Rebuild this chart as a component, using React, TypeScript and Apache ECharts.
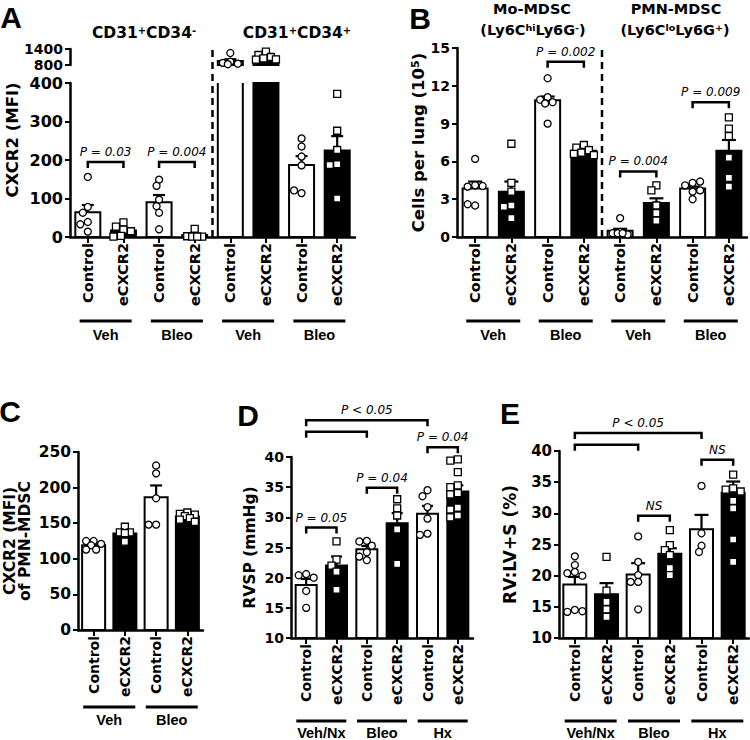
import React, { useEffect, useRef } from "react";
import * as echarts from "echarts";

// ---------------- categories & group labels ----------------
const CATS_A = ["Control", "eCXCR2", "Control", "eCXCR2", "Control", "eCXCR2", "Control", "eCXCR2"];
const GROUPS_A = ["Veh", "Bleo", "Veh", "Bleo"];
const CATS_B = ["Control", "eCXCR2", "Control", "eCXCR2", "Control", "eCXCR2", "Control", "eCXCR2"];
const GROUPS_B = ["Veh", "Bleo", "Veh", "Bleo"];
const CATS_C = ["Control", "eCXCR2", "Control", "eCXCR2"];
const GROUPS_C = ["Veh", "Bleo"];
const CATS_D = ["Control", "eCXCR2", "Control", "eCXCR2", "Control", "eCXCR2"];
const GROUPS_D = ["Veh/Nx", "Bleo", "Hx"];
const CATS_E = ["Control", "eCXCR2", "Control", "eCXCR2", "Control", "eCXCR2"];
const GROUPS_E = ["Veh/Nx", "Bleo", "Hx"];

// ---------------- tick labels ----------------
const TICKS_A_UPPER = [800, 1400];
const TICKS_A_LOWER = [0, 100, 200, 300, 400];
const TICKS_B = [0, 3, 6, 9, 12, 15];
const TICKS_C = [0, 50, 100, 150, 200, 250];
const TICKS_D = [10, 15, 20, 25, 30, 35, 40];
const TICKS_E = [10, 15, 20, 25, 30, 35, 40];

// ---------------- panel A: CXCR2 (MFI) ----------------
const A_MEAN = [64, 17, 90, 5, 946, 1106, 187, 225];
const A_SEM = [19, 6, 19, 3.5, 70, 45, 23, 37];
const A_POINTS = [
  [156, 78, 63, 39, 33, 14],
  [38, 27, 19, 15, 3, 1],
  [149, 133, 97, 80, 63, 20],
  [21, 3, 2, 1, 1, 1],
  [1250, 920, 880, 850, 830],
  [1300, 1175, 1100, 1050, 1012, 1000],
  [256, 235, 209, 186, 114, 121],
  [372, 276, 226, 189, 187, 100],
];
const A_BRACKETS = [[0, 1, 195], [2, 3, 195]];
const A_PVALUES = ["P = 0.03", "P = 0.004"];

// ---------------- panel B: cells per lung ----------------
const B_MEAN = [3.85, 3.6, 10.85, 6.85, 0.5, 2.7, 3.85, 6.85];
const B_SEM = [0.55, 0.8, 0.3, 0.3, 0.15, 0.37, 0.15, 0.85];
const B_POINTS = [
  [6.2, 4.1, 4.0, 4.05, 2.5, 2.6],
  [7.4, 4.3, 3.6, 2.5, 2.4, 1.5],
  [12.6, 11.1, 10.9, 10.7, 10.6, 9.0],
  [7.3, 7.1, 6.9, 6.7, 6.6, 6.5],
  [1.5, 0.4, 0.3, 0.2, 0.3, 0.3],
  [4.1, 3.7, 2.5, 1.9, 1.3],
  [4.3, 4.1, 4.4, 3.6, 3.7, 3.0],
  [9.5, 8.6, 8.0, 6.3, 4.7, 4.0],
];
const B_BRACKETS = [[2, 3, 13.9], [4, 5, 5.2], [6, 7, 10.7]];
const B_PVALUES = ["P = 0.002", "P = 0.004", "P = 0.009"];

// ---------------- panel C: CXCR2 of PMN-MDSC ----------------
const C_MEAN = [119, 135.5, 186.5, 159.5];
const C_SEM = [2.5, 3.5, 16.5, 2.5];
const C_POINTS = [
  [125, 125, 121, 119, 113, 113],
  [145, 137, 137, 136, 124],
  [231, 220, 185, 148, 148],
  [165, 163, 162, 160, 157, 155, 152],
];

// ---------------- panel D: RVSP ----------------
const D_MEAN = [18.8, 22.0, 24.7, 29.0, 30.6, 34.3];
const D_SEM = [1.0, 1.5, 0.55, 1.7, 1.3, 1.0];
const D_POINTS = [
  [20.6, 20.4, 20.0, 17.8, 15.0],
  [26.0, 23.0, 22.0, 21.0, 18.0],
  [26.1, 26.0, 25.3, 24.2, 23.5, 22.9],
  [33.0, 31.5, 30.3, 28.0, 22.3],
  [34.5, 33.5, 31.7, 29.8, 27.3, 27.1],
  [39.6, 39.4, 37.5, 35.3, 35.0, 34.0, 33.8, 31.6, 31.3, 30.3, 30.0],
];
const D_BRACKETS = [[0, 1, 28.3], [2, 3, 34.9], [4, 5, 41.6], [0, 4, 46.1], [0, 2, 44.2]];
const D_PVALUES = ["P = 0.05", "P = 0.04", "P = 0.04", "P < 0.05", ""];

// ---------------- panel E: RV:LV+S ----------------
const E_MEAN = [18.6, 17.0, 20.2, 23.5, 27.45, 33.3];
const E_SEM = [1.2, 1.8, 1.8, 0.9, 2.3, 1.8];
const E_POINTS = [
  [23.1, 21.7, 20.6, 20.4, 20.0, 14.5, 14.2, 14.3],
  [23.0, 17.6, 15.8, 14.6, 13.4],
  [26.3, 22.2, 20.1, 19.0, 19.0, 14.6],
  [27.3, 24.9, 24.1, 23.3, 21.2, 20.1],
  [34.4, 26.8, 24.8, 23.8],
  [36.2, 34.0, 33.8, 33.5, 32.0, 30.8, 25.8, 22.2],
];
const E_BRACKETS = [[2, 3, 29.6], [4, 5, 38.6], [0, 4, 42.9], [0, 2, 41.0]];
const E_PVALUES = ["NS", "NS", "P < 0.05", ""];

// ---------------- styling helpers ----------------
const BLACK = "#000";
const FN = "'DejaVu Sans', sans-serif";
const FA = "'Liberation Sans', Arial, sans-serif";

// horizontal spreading of points that sit at similar heights (kept inside the bar)
function swarm(ys: number[], d: number, maxOff: number): number[] {
  const placed: number[][] = [];
  const cands: number[] = [0];
  for (let s = 1; s * 2.5 <= maxOff; s++) cands.push(-s * 2.5, s * 2.5);
  return ys.map((y) => {
    let best = 0;
    let bestScore = -1;
    for (const dx of cands) {
      let md = Infinity;
      for (const p of placed) md = Math.min(md, Math.hypot(p[0] - dx, p[1] - y));
      if (md >= d * 0.85) { best = dx; break; }
      if (md > bestScore) { bestScore = md; best = dx; }
    }
    placed.push([best, y]);
    return best;
  });
}

function xAxisCfg(gi: number, cats: string[], fontSize: number, show = true) {
  return {
    type: "category", gridIndex: gi, data: cats, show,
    axisLine: { show: true, onZero: false, lineStyle: { color: BLACK, width: 2.5 } },
    axisTick: { show: true, alignWithLabel: true, length: 6, lineStyle: { color: BLACK, width: 2 } },
    axisLabel: { show: true, interval: 0, rotate: 90, margin: 6, color: BLACK, fontFamily: FN, fontWeight: "bold", fontSize },
    splitLine: { show: false },
  };
}

function yAxisCfg(gi: number, ticks: number[], fontSize: number, extra: any = {}) {
  return {
    type: "value", gridIndex: gi,
    min: ticks[0], max: ticks[ticks.length - 1], interval: ticks[1] - ticks[0],
    splitLine: { show: false },
    axisLine: { show: true, onZero: false, lineStyle: { color: BLACK, width: 2.5 } },
    axisTick: { show: true, length: 5, lineStyle: { color: BLACK, width: 2 } },
    axisLabel: {
      color: BLACK, fontFamily: FN, fontWeight: "bold", fontSize, margin: 7,
      formatter: (v: number) => String(v),
    },
    ...extra,
  };
}

function barsSeries(gi: number, cats: string[], means: number[], ticks: number[], barW: number) {
  const lo = ticks[0];
  const hi = ticks[ticks.length - 1];
  return {
    type: "custom", xAxisIndex: gi, yAxisIndex: gi, clip: false, z: 2,
    encode: { x: 0, y: 1 },
    data: means.map((m, i) => [i, m]).filter((d) => d[1] > lo),
    renderItem: (_p: any, api: any) => {
      const i = api.value(0);
      const m = api.value(1);
      const filled = cats[i] === "eCXCR2";
      const base = api.coord([i, lo]);
      const top = api.coord([i, Math.min(m, hi)]);
      const x = base[0] - barW / 2;
      const shape = { x, y: top[1], width: barW, height: base[1] - top[1] };
      if (filled) return { type: "rect", shape, style: { fill: BLACK, stroke: BLACK, lineWidth: 2 } };
      if (m > hi) {
        return {
          type: "group",
          children: [
            { type: "rect", shape, style: { fill: "#fff" } },
            {
              type: "polyline",
              shape: { points: [[x, top[1]], [x, base[1]], [x + barW, base[1]], [x + barW, top[1]]] },
              style: { stroke: BLACK, lineWidth: 2, fill: null },
            },
          ],
        };
      }
      return { type: "rect", shape, style: { fill: "#fff", stroke: BLACK, lineWidth: 2 } };
    },
  };
}

function errorSeries(gi: number, means: number[], sems: number[], ticks: number[], cap: number) {
  const lo = ticks[0];
  const hi = ticks[ticks.length - 1];
  return {
    type: "custom", xAxisIndex: gi, yAxisIndex: gi, clip: false, z: 3,
    encode: { x: 0, y: 1 },
    data: means.map((m, i) => [i, m, sems[i]]).filter((d) => d[1] > lo && d[1] <= hi),
    renderItem: (_p: any, api: any) => {
      const i = api.value(0);
      const m = api.value(1);
      const s = api.value(2);
      const p = api.coord([i, m]);
      const q = api.coord([i, m + s]);
      const st = { stroke: BLACK, lineWidth: 2.2 };
      return {
        type: "group",
        children: [
          { type: "line", shape: { x1: p[0], y1: p[1], x2: q[0], y2: q[1] }, style: st },
          { type: "line", shape: { x1: q[0] - cap, y1: q[1], x2: q[0] + cap, y2: q[1] }, style: st },
        ],
      };
    },
  };
}

function pointsSeries(gi: number, cats: string[], pts: number[][], ticks: number[], size: number, maxOff: number) {
  const lo = ticks[0];
  const hi = ticks[ticks.length - 1];
  const groups = pts.map((g) => g.filter((v) => v >= lo && v <= hi));
  const data: number[][] = [];
  groups.forEach((g, i) => g.forEach((v, k) => data.push([i, v, k])));
  return {
    type: "custom", xAxisIndex: gi, yAxisIndex: gi, clip: false, z: 4,
    encode: { x: 0, y: 1 },
    data,
    renderItem: (_p: any, api: any) => {
      const i = api.value(0);
      const v = api.value(1);
      const k = api.value(2);
      const ys = groups[i].map((val) => api.coord([i, val])[1]);
      const dx = swarm(ys, size + 0.8, maxOff)[k];
      const p = api.coord([i, v]);
      const style = { fill: "#fff", stroke: BLACK, lineWidth: 1.3 };
      if (cats[i] === "eCXCR2") {
        return { type: "rect", shape: { x: p[0] + dx - size / 2, y: p[1] - size / 2, width: size, height: size }, style };
      }
      return { type: "circle", shape: { cx: p[0] + dx, cy: p[1], r: size / 2 }, style };
    },
  };
}

function bracketSeries(gi: number, brackets: number[][], labels: string[], fontSize: number) {
  return {
    type: "custom", xAxisIndex: gi, yAxisIndex: gi, clip: false, z: 5,
    encode: { x: 0, y: 1 },
    data: brackets.map((b, j) => [b[0], b[2], b[1], j]),
    renderItem: (_p: any, api: any) => {
      const y = api.value(1);
      const a = api.coord([api.value(0), y]);
      const b = api.coord([api.value(2), y]);
      const label = labels[api.value(3)];
      const tick = 6;
      const children: any[] = [
        {
          type: "polyline",
          shape: { points: [[a[0], a[1] + tick], [a[0], a[1]], [b[0], b[1]], [b[0], b[1] + tick]] },
          style: { stroke: BLACK, lineWidth: 2.5, fill: null },
        },
      ];
      if (label) {
        children.push({
          type: "text", x: (a[0] + b[0]) / 2, y: a[1] - 4,
          style: { text: label, fill: BLACK, fontFamily: FN, fontStyle: "italic", fontSize, align: "center", verticalAlign: "bottom" },
        });
      }
      return { type: "group", children };
    },
  };
}

function groupSeries(gi: number, groups: string[], ticks: number[], lineOff: number, textOff: number, half: number) {
  const lo = ticks[0];
  return {
    type: "custom", xAxisIndex: gi, yAxisIndex: gi, clip: false, z: 5,
    encode: { x: 0, y: 1 },
    data: groups.map((_g, j) => [2 * j, lo, 2 * j + 1, j]),
    renderItem: (_p: any, api: any) => {
      const a = api.coord([api.value(0), lo]);
      const b = api.coord([api.value(2), lo]);
      const mid = (a[0] + b[0]) / 2;
      return {
        type: "group",
        children: [
          { type: "line", shape: { x1: mid - half, y1: a[1] + lineOff, x2: mid + half, y2: a[1] + lineOff }, style: { stroke: BLACK, lineWidth: 3 } },
          {
            type: "text", x: mid, y: a[1] + textOff,
            style: { text: groups[api.value(3)], fill: BLACK, fontFamily: FA, fontWeight: "bold", fontSize: 14.5, align: "center", verticalAlign: "middle" },
          },
        ],
      };
    },
  };
}

function separatorSeries(gi: number, after: number, ticks: number[], ext: number) {
  const lo = ticks[0];
  const hi = ticks[ticks.length - 1];
  return {
    type: "custom", xAxisIndex: gi, yAxisIndex: gi, clip: false, z: 5,
    encode: { x: 0, y: 1 },
    data: [[after, lo]],
    renderItem: (_p: any, api: any) => {
      const c = api.value(0);
      const a = api.coord([c, lo]);
      const b = api.coord([c + 1, hi]);
      const x = (a[0] + b[0]) / 2;
      return {
        type: "line",
        shape: { x1: x, y1: a[1], x2: x, y2: b[1] - ext },
        style: { stroke: BLACK, lineWidth: 2.5, lineDash: [7, 5] },
      };
    },
  };
}

function txt(x: number, y: number, text: string, fontSize: number, extra: any = {}) {
  return {
    type: "text", x, y,
    style: { text, fill: BLACK, fontFamily: FN, fontWeight: "bold", fontSize, align: "center", verticalAlign: "middle", ...extra },
  };
}

const SUP = (size: number) => ({ s: { fontSize: size, fontWeight: "bold", fontFamily: FN, fill: BLACK, verticalAlign: "top" } });

function buildOption() {
  const nameStyle = (fontSize: number, extra: any = {}) => ({
    fontFamily: FN, fontWeight: "bold", fontSize, color: BLACK, ...extra,
  });
  const upperAxis = yAxisCfg(0, TICKS_A_UPPER, 14);
  upperAxis.axisLabel = { ...upperAxis.axisLabel, lineHeight: 13 } as any;
  return {
    animation: false,
    backgroundColor: "#fff",
    textStyle: { fontFamily: FN },
    grid: [
      { left: 70, top: 49, width: 285, height: 16 },
      { left: 70, top: 83, width: 285, height: 154 },
      { left: 457, top: 48, width: 290, height: 189 },
      { left: 78, top: 452, width: 125, height: 178 },
      { left: 291, top: 457, width: 182, height: 181 },
      { left: 559, top: 451, width: 190, height: 187 },
    ],
    xAxis: [
      xAxisCfg(0, CATS_A, 14.5, false),
      xAxisCfg(1, CATS_A, 14.5),
      xAxisCfg(2, CATS_B, 14.5),
      xAxisCfg(3, CATS_C, 14),
      xAxisCfg(4, CATS_D, 14),
      xAxisCfg(5, CATS_E, 14),
    ],
    yAxis: [
      upperAxis,
      yAxisCfg(1, TICKS_A_LOWER, 16),
      yAxisCfg(2, TICKS_B, 14, {
        name: "Cells per lung (10{s|5})", nameLocation: "middle", nameGap: 25, nameRotate: 90,
        nameTextStyle: nameStyle(16.5, { rich: SUP(11) }),
      }),
      yAxisCfg(3, TICKS_C, 15.5, {
        name: "CXCR2 (MFI)\nof PMN-MDSC", nameLocation: "middle", nameGap: 46, nameRotate: 90,
        nameTextStyle: nameStyle(15.5, { lineHeight: 15 }),
      }),
      yAxisCfg(4, TICKS_D, 14, {
        name: "RVSP (mmHg)", nameLocation: "middle", nameGap: 33, nameRotate: 90,
        nameTextStyle: nameStyle(15.5),
      }),
      yAxisCfg(5, TICKS_E, 15, {
        name: "RV:LV+S (%)", nameLocation: "middle", nameGap: 41, nameRotate: 90,
        nameTextStyle: nameStyle(17),
      }),
    ],
    series: [
      // Panel A
      barsSeries(0, CATS_A, A_MEAN, TICKS_A_UPPER, 25),
      barsSeries(1, CATS_A, A_MEAN, TICKS_A_LOWER, 25),
      errorSeries(0, A_MEAN, A_SEM, TICKS_A_UPPER, 6),
      errorSeries(1, A_MEAN, A_SEM, TICKS_A_LOWER, 6),
      pointsSeries(0, CATS_A, A_POINTS, TICKS_A_UPPER, 7, 10),
      pointsSeries(1, CATS_A, A_POINTS, TICKS_A_LOWER, 7, 10),
      bracketSeries(1, A_BRACKETS, A_PVALUES, 12),
      groupSeries(1, GROUPS_A, TICKS_A_LOWER, 84, 98, 26),
      separatorSeries(1, 3, TICKS_A_LOWER, 38),
      // Panel B
      barsSeries(2, CATS_B, B_MEAN, TICKS_B, 25),
      errorSeries(2, B_MEAN, B_SEM, TICKS_B, 7),
      pointsSeries(2, CATS_B, B_POINTS, TICKS_B, 7, 10),
      bracketSeries(2, B_BRACKETS, B_PVALUES, 12),
      groupSeries(2, GROUPS_B, TICKS_B, 84, 98, 27),
      separatorSeries(2, 3, TICKS_B, 1),
      // Panel C
      barsSeries(3, CATS_C, C_MEAN, TICKS_C, 23),
      errorSeries(3, C_MEAN, C_SEM, TICKS_C, 6),
      pointsSeries(3, CATS_C, C_POINTS, TICKS_C, 7, 9),
      groupSeries(3, GROUPS_C, TICKS_C, 77, 90, 26),
      // Panel D
      barsSeries(4, CATS_D, D_MEAN, TICKS_D, 21),
      errorSeries(4, D_MEAN, D_SEM, TICKS_D, 5.5),
      pointsSeries(4, CATS_D, D_POINTS, TICKS_D, 7, 8),
      bracketSeries(4, D_BRACKETS, D_PVALUES, 12),
      groupSeries(4, GROUPS_D, TICKS_D, 83, 95, 25),
      // Panel E
      barsSeries(5, CATS_E, E_MEAN, TICKS_E, 23),
      errorSeries(5, E_MEAN, E_SEM, TICKS_E, 7),
      pointsSeries(5, CATS_E, E_POINTS, TICKS_E, 7, 9),
      bracketSeries(5, E_BRACKETS, E_PVALUES, 12),
      groupSeries(5, GROUPS_E, TICKS_E, 83, 95, 26),
    ],
    graphic: [
      txt(11, 17, "A", 30, { fontFamily: FA }),
      txt(420, 18, "B", 30, { fontFamily: FA }),
      txt(10, 411, "C", 30, { fontFamily: FA }),
      txt(248, 415, "D", 30, { fontFamily: FA }),
      txt(510, 413, "E", 30, { fontFamily: FA }),
      { ...txt(12, 140, "CXCR2 (MFI)", 16.5), rotation: Math.PI / 2 },
      txt(144, 33, "CD31{s|+}CD34{s|-}", 15.5, { rich: SUP(10) }),
      txt(297, 33, "CD31{s|+}CD34{s|+}", 15.5, { rich: SUP(10) }),
      txt(532, 9, "Mo-MDSC", 14.5),
      txt(533, 30, "(Ly6C{s|hi}Ly6G{s|-})", 14.5, { rich: SUP(9.5) }),
      txt(676, 9, "PMN-MDSC", 14.5),
      txt(675, 30, "(Ly6C{s|lo}Ly6G{s|+})", 14.5, { rich: SUP(9.5) }),
    ],
  };
}

export default function App() {
  const ref = useRef<HTMLDivElement>(null);
  useEffect(() => {
    const chart = echarts.init(ref.current as HTMLDivElement, null, { renderer: "svg" });
    chart.setOption(buildOption() as any);
    return () => chart.dispose();
  }, []);
  return (
    <div
      ref={ref}
      style={{ position: "absolute", left: 0, top: 0, width: 750, height: 740, background: "#fff" }}
    />
  );
}
